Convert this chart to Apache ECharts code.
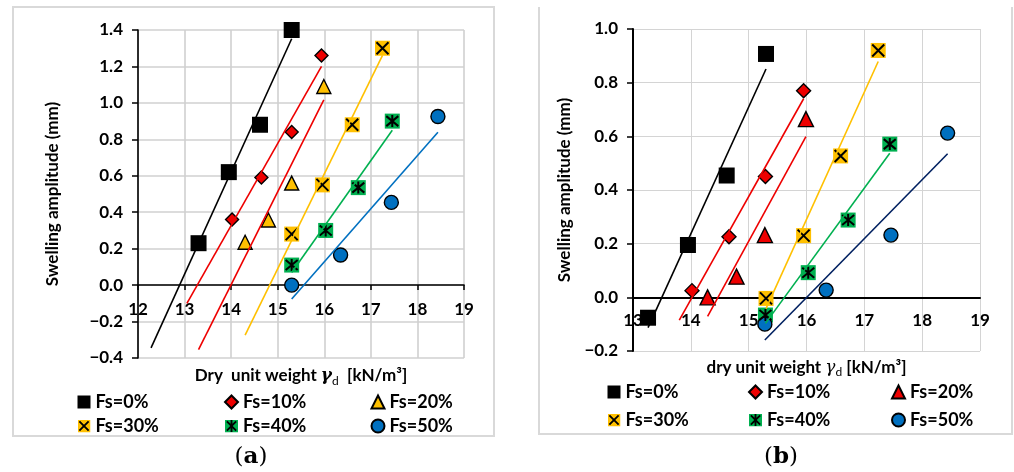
<!DOCTYPE html>
<html>
<head>
<meta charset="utf-8">
<script src="https://cdn.jsdelivr.net/npm/echarts@6/dist/echarts.min.js"></script>
<style>
  html, body { margin: 0; padding: 0; background: #fff; }
  #chart { width: 1014px; height: 472px; }
</style>
</head>
<body>
<div id="chart"></div>
<script>
// ---- shared labels ----
const groupNames = ['Fs=0%', 'Fs=10%', 'Fs=20%', 'Fs=30%', 'Fs=40%', 'Fs=50%'];

// ---- panel (a): dry unit weight [kN/m3] vs swelling amplitude [mm] ----
const xTicksA = [12, 13, 14, 15, 16, 17, 18, 19];
const yTicksA = [-0.4, -0.2, 0.0, 0.2, 0.4, 0.6, 0.8, 1.0, 1.2, 1.4];
const a0x = [13.3, 13.95, 14.62, 15.3],   a0y = [0.23, 0.62, 0.88, 1.40];
const a10x = [14.02, 14.65, 15.3, 15.94], a10y = [0.36, 0.59, 0.84, 1.26];
const a20x = [14.3, 14.8, 15.3, 15.99],   a20y = [0.235, 0.357, 0.56, 1.09];
const a30x = [15.3, 15.96, 16.6, 17.25],  a30y = [0.28, 0.55, 0.88, 1.30];
const a40x = [15.3, 16.03, 16.73, 17.46], a40y = [0.11, 0.30, 0.535, 0.90];
const a50x = [15.3, 16.35, 17.44, 18.44], a50y = [0.0, 0.165, 0.454, 0.925];
// linear trend lines: [x start, y start, x end, y end]
const a0trend = [12.28, -0.344, 15.3, 1.352];
const a10trend = [13.05, -0.10, 15.94, 1.20];
const a20trend = [13.3, -0.354, 15.99, 1.016];
const a30trend = [14.3, -0.274, 17.25, 1.261];
const a40trend = [15.3, 0.069, 17.46, 0.85];
const a50trend = [15.3, -0.076, 18.44, 0.839];

// ---- panel (b) ----
const xTicksB = [13, 14, 15, 16, 17, 18, 19];
const yTicksB = [-0.2, 0.0, 0.2, 0.4, 0.6, 0.8, 1.0];
const b0x = [13.26, 13.95, 14.62, 15.3],  b0y = [-0.076, 0.195, 0.454, 0.907];
const b10x = [14.02, 14.66, 15.29, 15.95], b10y = [0.025, 0.226, 0.45, 0.77];
const b20x = [14.29, 14.79, 15.28, 15.99], b20y = [0.0, 0.077, 0.232, 0.664];
const b30x = [15.3, 15.95, 16.59, 17.24],  b30y = [-0.004, 0.23, 0.527, 0.92];
const b40x = [15.29, 16.03, 16.72, 17.44], b40y = [-0.066, 0.092, 0.288, 0.571];
const b50x = [15.28, 16.34, 17.46, 18.44], b50y = [-0.10, 0.027, 0.232, 0.612];
const b0trend = [13.26, -0.113, 15.3, 0.851];
const b10trend = [13.8, -0.085, 15.95, 0.74];
const b20trend = [14.29, -0.071, 15.99, 0.599];
const b30trend = [15.3, -0.042, 17.24, 0.879];
const b40trend = [15.29, -0.097, 17.44, 0.537];
const b50trend = [15.28, -0.159, 18.44, 0.535];

// ---- styling ----
const FONT = 'Lato';
const C = { black: '#000000', red: '#ee0000', yellow: '#ffc000', green: '#00b050', blue: '#0070c0', navy: '#002060' };
const X_PATH = 'path://M0,0L10,10M10,0L0,10';
const STAR_PATH = 'path://M0,0L10,10M10,0L0,10M5,-1L5,11';

function svgIcon(fill, inner) {
  const svg = "<svg xmlns='http://www.w3.org/2000/svg' width='28' height='28' viewBox='0 0 28 28'>" +
    "<rect x='0' y='0' width='28' height='28' fill='" + fill + "'/>" + inner + "</svg>";
  return 'image://data:image/svg+xml;charset=utf-8,' + encodeURIComponent(svg);
}
const ICON_X = svgIcon(C.yellow, "<path d='M4,4L24,24M24,4L4,24' stroke='#000' stroke-width='4'/>");
const ICON_STAR = svgIcon(C.green, "<path d='M4,4L24,24M24,4L4,24M14,1L14,27' stroke='#000' stroke-width='4'/>");

function pts(xs, ys) { return xs.map((x, i) => [x, ys[i]]); }
function seg(t) { return [[t[0], t[1]], [t[2], t[3]]]; }
function fmtY(v) { return (Math.round(v * 10) / 10).toFixed(1).replace('-', '\u2212'); }

const series = [];
function addMarkers(panel, name, data, symbol, size, color, border, overlay) {
  const gi = panel === 'a' ? 0 : 1;
  series.push({
    type: 'scatter', name: panel + ':' + name, xAxisIndex: gi, yAxisIndex: gi,
    data, symbol, symbolSize: size, z: 3,
    itemStyle: { color, borderColor: '#000', borderWidth: border ? 1.4 : 0, opacity: 1 },
    emphasis: { disabled: true }
  });
  if (overlay) {
    series.push({
      type: 'scatter', name: panel + ':' + name + ' mark', xAxisIndex: gi, yAxisIndex: gi,
      data, symbol: overlay, symbolSize: 12, z: 4,
      itemStyle: { color: 'rgba(0,0,0,0)', borderColor: '#000', borderWidth: 2, opacity: 1 },
      emphasis: { disabled: true }
    });
  }
}
function addTrend(panel, key, t, color) {
  const gi = panel === 'a' ? 0 : 1;
  series.push({
    type: 'line', name: panel + ':trend ' + key, xAxisIndex: gi, yAxisIndex: gi,
    data: seg(t), showSymbol: false, symbol: 'none', z: 5,
    lineStyle: { color, width: 1.6 }, emphasis: { disabled: true }
  });
}

// panel (a)
addMarkers('a', groupNames[0], pts(a0x, a0y), 'rect', 16, C.black, false);
addMarkers('a', groupNames[1], pts(a10x, a10y), 'diamond', 13, C.red, true);
addMarkers('a', groupNames[2], pts(a20x, a20y), 'triangle', 14, C.yellow, true);
addMarkers('a', groupNames[3], pts(a30x, a30y), 'rect', 15, C.yellow, false, X_PATH);
addMarkers('a', groupNames[4], pts(a40x, a40y), 'rect', 15, C.green, false, STAR_PATH);
addMarkers('a', groupNames[5], pts(a50x, a50y), 'circle', 14, C.blue, true);
addTrend('a', 0, a0trend, C.black);
addTrend('a', 10, a10trend, C.red);
addTrend('a', 20, a20trend, C.red);
addTrend('a', 30, a30trend, C.yellow);
addTrend('a', 40, a40trend, C.green);
addTrend('a', 50, a50trend, C.blue);

// panel (b)
addMarkers('b', groupNames[0], pts(b0x, b0y), 'rect', 16, C.black, false);
addMarkers('b', groupNames[1], pts(b10x, b10y), 'diamond', 14, C.red, true);
addMarkers('b', groupNames[2], pts(b20x, b20y), 'triangle', 15, C.red, true);
addMarkers('b', groupNames[3], pts(b30x, b30y), 'rect', 15, C.yellow, false, X_PATH);
addMarkers('b', groupNames[4], pts(b40x, b40y), 'rect', 15, C.green, false, STAR_PATH);
addMarkers('b', groupNames[5], pts(b50x, b50y), 'circle', 14, C.blue, true);
addTrend('b', 0, b0trend, C.black);
addTrend('b', 10, b10trend, C.red);
addTrend('b', 20, b20trend, C.red);
addTrend('b', 30, b30trend, C.yellow);
addTrend('b', 40, b40trend, C.green);
addTrend('b', 50, b50trend, C.navy);

// the horizontal axis is lifted from the plot bottom up to the y = 0 line
function xAxis(gi, ticks, offset, gridColor, gridW, tickShow, labelMargin, nameText, nameGap, rich) {
  return {
    type: 'value', gridIndex: gi, min: ticks[0], max: ticks[ticks.length - 1], interval: 1,
    position: 'bottom', offset,
    axisLine: { onZero: false, lineStyle: { color: '#000', width: gi === 0 ? 1.6 : 2 } },
    axisTick: { show: tickShow, length: 5, lineStyle: { color: '#000', width: 1.5 } },
    axisLabel: { margin: labelMargin, color: '#000', fontFamily: FONT, fontWeight: 'bold', fontSize: 17 },
    splitLine: { show: true, lineStyle: { color: gridColor, width: gridW } },
    name: nameText, nameLocation: 'middle', nameGap,
    nameTextStyle: { color: '#000', fontFamily: FONT, fontWeight: 'bold', fontSize: 17, lineHeight: 22, rich }
  };
}
function yAxis(gi, ticks, gridColor, gridW, nameGap) {
  return {
    type: 'value', gridIndex: gi, min: ticks[0], max: ticks[ticks.length - 1], interval: 0.2,
    axisLine: { show: true, onZero: false, lineStyle: { color: '#000', width: gi === 0 ? 1.6 : 2 } },
    axisTick: { show: true, length: 6, lineStyle: { color: '#000', width: 1.5 } },
    axisLabel: { margin: 15, color: '#000', fontFamily: FONT, fontWeight: 'bold', fontSize: 17, formatter: fmtY },
    splitLine: { show: true, lineStyle: { color: gridColor, width: gridW } },
    name: 'Swelling amplitude (mm)', nameLocation: 'middle', nameGap, nameRotate: 90,
    nameTextStyle: { color: '#000', fontFamily: FONT, fontWeight: 'bold', fontSize: 17 }
  };
}

const textRich = { fontFamily: FONT, fontWeight: 'bold', fontSize: 17, color: '#000', lineHeight: 22 };
const richA = {
  t: textRich,
  g: { fontFamily: 'DejaVu Serif', fontStyle: 'italic', fontWeight: 'bold', fontSize: 17, color: '#000', lineHeight: 22 },
  s: { fontFamily: FONT, fontWeight: 'normal', fontSize: 12, color: '#000', lineHeight: 12, verticalAlign: 'bottom' }
};
const richB = {
  t: textRich,
  g: { fontFamily: 'DejaVu Serif', fontStyle: 'italic', fontWeight: 'normal', fontSize: 17, color: '#000', lineHeight: 22 },
  s: { fontFamily: FONT, fontWeight: 'normal', fontSize: 12, color: '#000', lineHeight: 12, verticalAlign: 'bottom' }
};

// one legend per column, two rows each
function legendCol(panel, names, icons, left, top, rowGap) {
  return {
    left, top, orient: 'vertical', itemGap: rowGap - 20, padding: 0, selectedMode: false,
    itemWidth: 13, itemHeight: 13,
    data: names.map((n, i) => icons[i] ? { name: panel + ':' + n, icon: icons[i] } : panel + ':' + n),
    formatter: (n) => n.slice(2),
    textStyle: { fontFamily: FONT, fontWeight: 'bold', fontSize: 18, color: '#000', lineHeight: 20 }
  };
}

const option = {
  backgroundColor: '#ffffff',
  animation: false,
  grid: [
    { left: 138, top: 30, width: 326, height: 328, containLabel: false },
    { left: 633, top: 29, width: 347, height: 322, containLabel: false }
  ],
  xAxis: [
    xAxis(0, xTicksA, -73, '#d0d0d0', 1.6, true, 16,
      '{t|Dry  unit weight }{g|\u03b3}{s|d}{t|  [kN/m\u00b3]}', 80, richA),
    xAxis(1, xTicksB, -53.7, '#d4d4d4', 1, false, 15,
      '{t|dry unit weight }{g|\u03b3}{s|d}{t| [kN/m\u00b3]}', 59, richB)
  ],
  yAxis: [
    yAxis(0, yTicksA, '#d0d0d0', 1.6, 77),
    yAxis(1, yTicksB, '#d4d4d4', 1, 60)
  ],
  legend: [
    legendCol('a', [groupNames[0], groupNames[3]], [null, ICON_X], 77.5, 392, 24),
    legendCol('a', [groupNames[1], groupNames[4]], [null, ICON_STAR], 224, 392, 24),
    legendCol('a', [groupNames[2], groupNames[5]], [null, null], 370.5, 392, 24),
    legendCol('b', [groupNames[0], groupNames[3]], [null, ICON_X], 607.5, 382, 28),
    legendCol('b', [groupNames[1], groupNames[4]], [null, ICON_STAR], 748, 382, 28),
    legendCol('b', [groupNames[2], groupNames[5]], [null, null], 891, 382, 28)
  ],
  graphic: [
    { type: 'rect', silent: true, z: -10, shape: { x: 13, y: 7, width: 481, height: 429 },
      style: { fill: 'none', stroke: '#d9d9d9', lineWidth: 2 } },
    { type: 'polyline', silent: true, z: -10, shape: { points: [[539, 7], [539, 434], [1012, 434], [1012, 7]] },
      style: { fill: 'none', stroke: '#d9d9d9', lineWidth: 2 } },
    { type: 'text', silent: true, x: 251, y: 457,
      style: { text: '{p|(}{b|a}{p|)}', textAlign: 'center', textVerticalAlign: 'middle',
        rich: { p: { fontFamily: 'DejaVu Serif', fontSize: 23, fill: '#000' },
                b: { fontFamily: 'DejaVu Serif', fontSize: 23, fontWeight: 'bold', fill: '#000' } } } },
    { type: 'text', silent: true, x: 781, y: 457,
      style: { text: '{p|(}{b|b}{p|)}', textAlign: 'center', textVerticalAlign: 'middle',
        rich: { p: { fontFamily: 'DejaVu Serif', fontSize: 23, fill: '#000' },
                b: { fontFamily: 'DejaVu Serif', fontSize: 23, fontWeight: 'bold', fill: '#000' } } } }
  ],
  series
};

const chart = echarts.init(document.getElementById('chart'), null, { renderer: 'canvas', width: 1014, height: 472 });
chart.setOption(option);
</script>
</body>
</html>
